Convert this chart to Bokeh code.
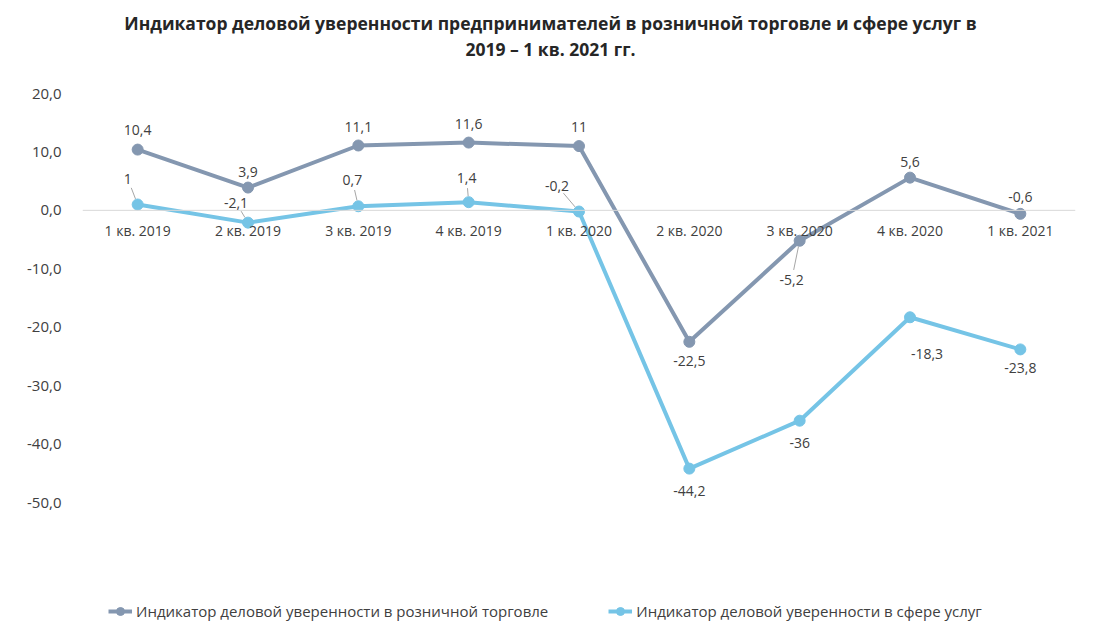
from bokeh.plotting import figure
from bokeh.models import (ColumnDataSource, LabelSet, Label, Span, Range1d, FixedTicker,
                          CustomJSTickFormatter, Legend, LegendItem)
from bokeh.core.properties import value
from bokeh.embed import file_html
from bokeh.resources import INLINE

# ---------------- data ----------------
categories = ["1 кв. 2019", "2 кв. 2019", "3 кв. 2019", "4 кв. 2019", "1 кв. 2020",
              "2 кв. 2020", "3 кв. 2020", "4 кв. 2020", "1 кв. 2021"]
retail = [10.4, 3.9, 11.1, 11.6, 11.0, -22.5, -5.2, 5.6, -0.6]
services = [1.0, -2.1, 0.7, 1.4, -0.2, -44.2, -36.0, -18.3, -23.8]
y_ticks = [-50, -40, -30, -20, -10, 0, 10, 20]
title_lines = ["Индикатор деловой уверенности предпринимателей в розничной торговле и сфере услуг в",
               "2019 – 1 кв. 2021 гг."]
series_names = ["Индикатор деловой уверенности в розничной торговле",
                "Индикатор деловой уверенности в сфере услуг"]

# ---------------- style / layout ----------------
W, H = 1100, 633
ML, MR = 82, 25
TOP_PX, BOT_PX = 93, 502          # pixel rows of the 20 and -50 grid values
Y_TOP, Y_BOT = 20, -50
FONT = "Open Sans"
TXT = "#404040"
C_RETAIL = "#8497B0"
C_SERV = "#75C4E6"
# label offsets in px (dx, dy up-positive) and leader flags
retail_dx = [0, 0, 0, 0, 0, 0, -8, 0, 0]
retail_dy = [20, 16, 19, 19, 19, -19, -39, 16, 17]
retail_lead = [0, 0, 0, 0, 0, 0, 1, 0, 0]
serv_dx = [-10, -12, -6, -2, -22, 0, 0, 17, 0]
serv_dy = [26, 20, 26, 24, 26, -22, -22, -37, -19]
serv_lead = [1, 1, 1, 1, 1, 0, 0, 0, 0]

upp = (Y_TOP - Y_BOT) / (BOT_PX - TOP_PX)    # data units per pixel (y)
x = list(range(len(categories)))
x_range = Range1d(-0.5, len(categories) - 0.5)
y_range = Range1d(Y_BOT - (H - BOT_PX) * upp, Y_TOP + TOP_PX * upp)

p = figure(width=W, height=H, x_range=x_range, y_range=y_range,
           output_backend="svg", toolbar_location=None,
           min_border_left=ML, min_border_right=MR, min_border_top=0, min_border_bottom=0)
p.title = None
p.outline_line_color = None
p.grid.visible = False
p.xaxis.visible = False
p.yaxis.ticker = FixedTicker(ticks=y_ticks)
p.yaxis.formatter = CustomJSTickFormatter(code="return tick.toFixed(1).replace('.', ',');")
p.yaxis.axis_line_color = None
p.yaxis.major_tick_line_color = None
p.yaxis.minor_tick_line_color = None
p.yaxis.major_label_standoff = 15
p.yaxis.major_label_text_font = FONT
p.yaxis.major_label_text_font_size = "15px"
p.yaxis.major_label_text_color = TXT

p.add_layout(Span(location=0, dimension="width", line_color="#d9d9d9", line_width=1))

frame_w = W - ML - MR
px_x = (x_range.end - x_range.start) / frame_w


def fmt(v):
    return f"{v:g}".replace(".", ",")


def add_series(vals, color, dx, dy, lead):
    src = ColumnDataSource(dict(x=x, y=vals, t=[fmt(v) for v in vals], dx=dx, dy=dy))
    ln = p.line("x", "y", source=src, line_color=color, line_width=4)
    sc = p.scatter("x", "y", source=src, size=11, fill_color=color, line_color=color)
    x0, y0, x1, y1 = [], [], [], []
    for xi, vi, a, b, f in zip(x, vals, dx, dy, lead):
        if not f:
            continue
        d = (a * a + b * b) ** 0.5
        s0, s1 = 6 / d, 1 - 10 / d
        x0.append(xi + a * s0 * px_x); y0.append(vi + b * s0 * upp)
        x1.append(xi + a * s1 * px_x); y1.append(vi + b * s1 * upp)
    if x0:
        p.segment(x0, y0, x1, y1, line_color="#a6a6a6", line_width=1)
    p.add_layout(LabelSet(x="x", y="y", text="t", source=src, x_offset="dx", y_offset="dy",
                          text_align="center", text_baseline="middle", text_font=value(FONT),
                          text_font_size="14px", text_color=TXT))
    return ln, sc


r_line, r_sc = add_series(retail, C_RETAIL, retail_dx, retail_dy, retail_lead)
s_line, s_sc = add_series(services, C_SERV, serv_dx, serv_dy, serv_lead)

# category labels next to the zero line
csrc = ColumnDataSource(dict(x=x, y=[0] * len(x), t=categories))
p.add_layout(LabelSet(x="x", y="y", text="t", source=csrc, y_offset=-20,
                      text_align="center", text_baseline="middle", text_font=value(FONT),
                      text_font_size="14px", text_color=TXT))

# title (screen units relative to the frame's bottom-left)
for line, ypix in zip(title_lines, [22, 48]):
    p.add_layout(Label(x=550 - ML, y=H - ypix, x_units="screen", y_units="screen", text=line,
                       text_align="center", text_baseline="middle", text_font=FONT,
                       text_font_style="bold", text_font_size="17.5px", text_color="#262626"))

legend = Legend(items=[LegendItem(label=series_names[0], renderers=[r_line, r_sc]),
                       LegendItem(label=series_names[1], renderers=[s_line, s_sc])],
                orientation="horizontal", location=(26, H - 611 - 10),
                border_line_color=None, background_fill_alpha=0,
                label_text_font=FONT, label_text_font_size="15px", label_text_color=TXT,
                glyph_width=24, glyph_height=20, spacing=60, padding=0, margin=0,
                label_standoff=4, label_height=20)
p.add_layout(legend, "center")

open("out.html", "w").write(file_html(p, INLINE))
